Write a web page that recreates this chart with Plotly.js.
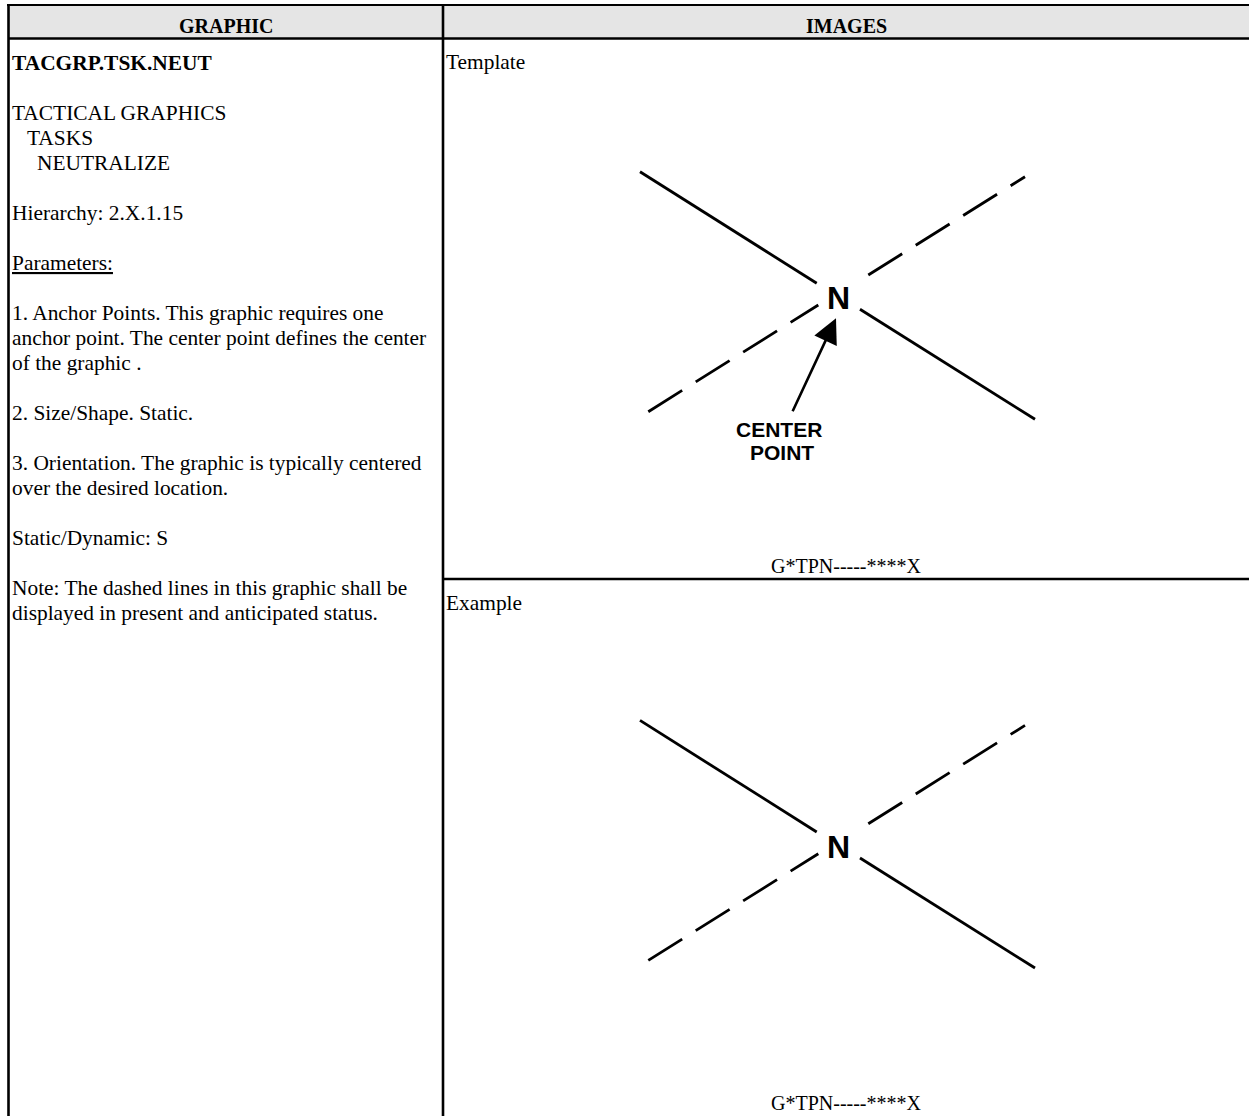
<!DOCTYPE html>
<html>
<head>
<meta charset="utf-8">
<script src="https://cdn.plot.ly/plotly-3.0.1.min.js"></script>
<style>html,body{margin:0;padding:0;background:#fff;overflow:hidden}</style>
</head>
<body>
<div id="chart" style="width:1249px;height:1116px"></div>
<script>
// ---------------- content ----------------
const headerLabels = ["GRAPHIC", "IMAGES"];
const symbolId = "TACGRP.TSK.NEUT";
const hierarchyLines = ["TACTICAL GRAPHICS", "TASKS", "NEUTRALIZE"];
const hierarchyIndent = [0, 1, 2];
const descriptionLines = [
  "Hierarchy: 2.X.1.15",
  "",
  "<u>Parameters:</u>",
  "",
  "1. Anchor Points. This graphic requires one",
  "anchor point. The center point defines the center",
  "of the graphic .",
  "",
  "2. Size/Shape. Static.",
  "",
  "3. Orientation. The graphic is typically centered",
  "over the desired location.",
  "",
  "Static/Dynamic: S",
  "",
  "Note: The dashed lines in this graphic shall be",
  "displayed in present and anticipated status."
];
const panelLabels = ["Template", "Example"];
const symbolCode = "G*TPN-----****X";
const centerLetter = "N";
const calloutLines = ["CENTER", "POINT"];

// symbol geometry (local units, origin at the letter, y downward)
const solidUpperLeftX = [-198.3, -21.6];
const solidUpperLeftY = [-126.6, -15.0];
const solidLowerRightX = [21.7, 196.7];
const solidLowerRightY = [11.0, 121.0];
const dashedUpperRightX = [30.0, 186.7];
const dashedUpperRightY = [-23.3, -121.6];
const dashedLowerLeftX = [-190.0, -20.0];
const dashedLowerLeftY = [113.4, 6.7];
const arrowTail = [-46.6, 115.0];
const arrowTip = [-2.3, 20.0];
const calloutX = [-59, -56];
const calloutY = [131, 154.4];

// ---------------- layout helpers ----------------
const W = 1249, H = 1116;
const px = x => x / W;
const py = y => 1 - y / H;

const leftBorder = 8.5, divider = 443, topLine = 5, headerBottom = 38.5, rowLine = 579;
const textLeft = 11, lineStep = 25, firstLineY = 63;
const bodySize = 21.4;
const serif = "Liberation Serif, Times New Roman, serif";
const sans = "Liberation Sans, Arial, Helvetica, sans-serif";
const ink = "#000000";

const annotations = [];
function textAt(x, y, text, opts) {
  annotations.push(Object.assign({
    xref: "paper", yref: "paper", x: px(x), y: py(y), text: text,
    showarrow: false, xanchor: "left", yanchor: "middle",
    font: {family: serif, size: bodySize, color: ink}, borderpad: 0
  }, opts || {}));
}

// header
textAt((leftBorder + divider) / 2, 26, "<b>" + headerLabels[0] + "</b>", {xanchor: "center", font: {family: serif, size: 20, color: ink}});
textAt((divider + W) / 2, 26, "<b>" + headerLabels[1] + "</b>", {xanchor: "center", font: {family: serif, size: 20, color: ink}});

// left column
textAt(textLeft, firstLineY, "<b>" + symbolId + "</b>");
hierarchyLines.forEach((t, i) => {
  textAt(textLeft + [0, 15, 25][hierarchyIndent[i]], firstLineY + lineStep * (2 + i), t);
});
descriptionLines.forEach((t, i) => {
  if (t) textAt(textLeft, firstLineY + lineStep * (6 + i), t);
});

// right column labels
const panelTops = [headerBottom, rowLine];
const panelBottoms = [rowLine, H];
panelLabels.forEach((t, i) => {
  textAt(divider + 2, panelTops[i] + 24, t);
  textAt((divider + W) / 2, panelBottoms[i] - 13, symbolCode, {xanchor: "center", font: {family: serif, size: 20, color: ink}});
});

// ---------------- symbol panels ----------------
const centers = [[838.3, 298.3], [838.3, 847]];
const data = [];
const layout = {
  width: W, height: H,
  margin: {l: 0, r: 0, t: 0, b: 0},
  paper_bgcolor: "#ffffff", plot_bgcolor: "rgba(0,0,0,0)",
  showlegend: false,
  annotations: annotations,
  shapes: []
};

centers.forEach((c, i) => {
  const xa = i === 0 ? "x" : "x2";
  const ya = i === 0 ? "y" : "y2";
  const top = panelTops[i] + 2, bot = panelBottoms[i] - 1;
  const axX = {domain: [px(divider + 2), 1], range: [divider + 2 - c[0], W - c[0]],
    showgrid: false, zeroline: false, showticklabels: false, ticks: "", showline: false, fixedrange: true};
  const axY = {domain: [py(bot), py(top)], range: [bot - c[1], top - c[1]],
    showgrid: false, zeroline: false, showticklabels: false, ticks: "", showline: false, fixedrange: true};
  layout[i === 0 ? "xaxis" : "xaxis2"] = axX;
  layout[i === 0 ? "yaxis" : "yaxis2"] = Object.assign(axY, {anchor: xa});
  axX.anchor = ya;

  const solid = {color: ink, width: 2.8};
  const dashed = {color: ink, width: 2.8, dash: "40px,16px"};
  [[solidUpperLeftX, solidUpperLeftY, solid], [solidLowerRightX, solidLowerRightY, solid],
   [dashedUpperRightX, dashedUpperRightY, dashed], [dashedLowerLeftX, dashedLowerLeftY, dashed]]
    .forEach(s => data.push({type: "scatter", mode: "lines", x: s[0], y: s[1], xaxis: xa, yaxis: ya,
      line: s[2], hoverinfo: "skip"}));

  annotations.push({xref: xa, yref: ya, x: 0, y: 0, text: "<b>" + centerLetter + "</b>",
    showarrow: false, xanchor: "center", yanchor: "middle",
    font: {family: sans, size: 32, color: ink}});

  if (i === 0) {
    annotations.push({xref: xa, yref: ya, x: arrowTip[0], y: arrowTip[1],
      axref: xa, ayref: ya, ax: arrowTail[0], ay: arrowTail[1], text: " ",
      font: {size: 1}, showarrow: true, arrowhead: 2, arrowsize: 1.9, arrowwidth: 2.6,
      arrowcolor: ink, standoff: 0, startstandoff: 0});
    calloutLines.forEach((t, k) => annotations.push({xref: xa, yref: ya, x: calloutX[k], y: calloutY[k],
      text: "<b>" + t + "</b>", showarrow: false, xanchor: "center", yanchor: "middle",
      font: {family: sans, size: 21, color: ink}}));
  }
});

// ---------------- table rules ----------------
const S = layout.shapes;
S.push({type: "rect", xref: "paper", yref: "paper", x0: px(leftBorder), x1: 1, y0: py(headerBottom), y1: py(topLine),
  fillcolor: "#e5e5e5", line: {width: 0}, layer: "below"});
function rule(x0, y0, x1, y1, w) {
  S.push({type: "line", xref: "paper", yref: "paper", x0: px(x0), y0: py(y0), x1: px(x1), y1: py(y1),
    line: {color: ink, width: w}});
}
rule(7, topLine, W, topLine, 2.2);
rule(leftBorder, headerBottom, W, headerBottom, 2.6);
rule(leftBorder, 4, leftBorder, H, 2.6);
rule(divider, 4, divider, H, 2.6);
rule(divider, rowLine, W, rowLine, 2.6);

Plotly.newPlot("chart", data, layout, {staticPlot: true, displayModeBar: false});
</script>
</body>
</html>
